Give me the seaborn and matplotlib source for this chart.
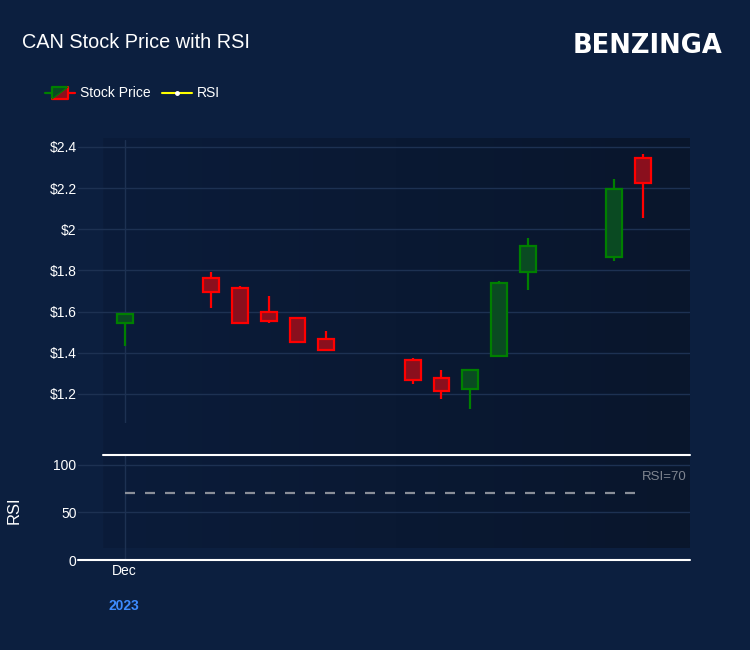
import numpy as np
import pandas as pd
import matplotlib
matplotlib.use("Agg")
import matplotlib.pyplot as plt
import matplotlib.dates as mdates
from matplotlib.lines import Line2D
from matplotlib.patches import Polygon
from matplotlib.colors import LinearSegmentedColormap
import seaborn as sns

# data (CAN, Dec 2023)
dates = ["2023-12-01", "2023-12-04", "2023-12-05", "2023-12-06", "2023-12-07",
         "2023-12-08", "2023-12-11", "2023-12-12", "2023-12-13", "2023-12-14",
         "2023-12-15", "2023-12-18", "2023-12-19"]
open_ = [1.545, 1.762, 1.717, 1.598, 1.568, 1.467, 1.367, 1.278, 1.224, 1.383, 1.794, 1.864, 2.348]
high = [1.595, 1.794, 1.726, 1.676, 1.573, 1.505, 1.373, 1.317, 1.318, 1.749, 1.957, 2.245, 2.365]
low = [1.433, 1.616, 1.545, 1.547, 1.446, 1.407, 1.247, 1.177, 1.129, 1.383, 1.707, 1.848, 2.057]
close = [1.587, 1.694, 1.547, 1.555, 1.454, 1.414, 1.267, 1.215, 1.318, 1.738, 1.918, 2.196, 2.224]
rsi = [np.nan] * len(dates)  # not enough history, no RSI drawn
rsi_level = 70
price_ticks = [1.2, 1.4, 1.6, 1.8, 2.0, 2.2, 2.4]
price_labels = ["$1.2", "$1.4", "$1.6", "$1.8", "$2", "$2.2", "$2.4"]
rsi_ticks = [0, 50, 100]

BG = "#0c1f3f"
GRID = "#1d3152"
UP_EDGE, UP_FILL = "#008000", "#0a4a22"
DN_EDGE, DN_FILL = "#ff0000", "#8a0f1d"

sns.set_theme(style="dark", rc={"axes.facecolor": "none", "figure.facecolor": BG})
plt.rcParams["font.family"] = ["Liberation Sans", "DejaVu Sans"]

df = pd.DataFrame({"date": pd.to_datetime(dates), "open": open_, "high": high,
                   "low": low, "close": close, "rsi": rsi})
df["up"] = df["close"] >= df["open"]

W, H = 750, 650
fig = plt.figure(figsize=(7.5, 6.5), dpi=100)


def fx(px):
    return px / W


def fy(py):
    return 1 - py / H


# dark gradient panel behind both plots
ax_bg = fig.add_axes([fx(103), fy(548), fx(690 - 103), fy(138) - fy(548)], zorder=0)
grad = np.linspace(0, 1, 256).reshape(1, -1)
cmap = LinearSegmentedColormap.from_list("bg", ["#0b1c3a", "#09162c"])
ax_bg.imshow(grad, aspect="auto", cmap=cmap, extent=[0, 1, 0, 1])
ax_bg.axis("off")

L = 78
ax = fig.add_axes([fx(L), fy(423), fx(690 - L), fy(140) - fy(423)], zorder=1)
ax_r = fig.add_axes([fx(L), fy(560), fx(690 - L), fy(455) - fy(560)], zorder=1, sharex=ax)

start = df["date"].iloc[0]
xlim = (start - pd.Timedelta(days=1.62), start + pd.Timedelta(days=19.63))

# candles
for _, r in df.iterrows():
    edge = UP_EDGE if r["up"] else DN_EDGE
    ax.vlines(r["date"], r["low"], r["high"], color=edge, lw=1.6, zorder=2)
up = df[df["up"]]
dn = df[~df["up"]]
ax.bar(up["date"], up["close"] - up["open"], bottom=up["open"], width=0.55,
       color=UP_FILL, edgecolor=UP_EDGE, linewidth=1.6, zorder=3)
ax.bar(dn["date"], dn["open"] - dn["close"], bottom=dn["close"], width=0.55,
       color=DN_FILL, edgecolor=DN_EDGE, linewidth=1.6, zorder=3)

ax.set_xlim(*xlim)
ax.set_ylim(1.059, 2.434)
ax.set_yticks(price_ticks)
ax.set_yticklabels(price_labels)
ax.tick_params(axis="y", colors="white", labelsize=10, length=0, pad=1)
ax.tick_params(axis="x", labelbottom=False, length=0)
ax.set_xticks([start])
ax.grid(True, color=GRID, lw=1)
for s in ax.spines.values():
    s.set_visible(False)
ax.set_xlabel("")
ax.set_ylabel("")

# RSI panel
ax_r.plot(df["date"], df["rsi"], color="#ffff00", lw=1.5)
thr = pd.DataFrame({"date": [df["date"].iloc[0], df["date"].iloc[-1] - pd.Timedelta(days=0.2)],
                    "val": [rsi_level, rsi_level]})
sns.lineplot(data=thr, x="date", y="val", ax=ax_r, color="#8a8f99", lw=1.6,
             linestyle=(0, (4.5, 4.5)))
ax_r.text(0.995, 0.79, "RSI=70", transform=ax_r.transAxes, ha="right", va="center",
          color="#7f8590", fontsize=9.5)
ax_r.set_ylim(0, 110.5)
ax_r.set_yticks(rsi_ticks)
ax_r.tick_params(axis="y", colors="white", labelsize=10, length=0, pad=1)
ax_r.set_xticks([start])
ax_r.xaxis.set_major_formatter(mdates.DateFormatter("%b"))
ax_r.tick_params(axis="x", colors="white", labelsize=10, length=0, pad=3)
ax_r.grid(True, color=GRID, lw=1)
ax_r.set_xlabel("")
ax_r.set_ylabel("")
for s in ax_r.spines.values():
    s.set_visible(False)
ax_r.set_xlim(*xlim)
fig.text(fx(14), fy(510), "RSI", color="white", fontsize=12, rotation=90,
         ha="center", va="center")

# white rules
fig.add_artist(Line2D([fx(103), fx(690)], [fy(455), fy(455)], color="white", lw=1.5))
fig.add_artist(Line2D([fx(78), fx(690)], [fy(560), fy(560)], color="white", lw=1.5))

fig.text(fx(124), fy(606), "2023", color="#3d8bff", fontsize=10, fontweight="bold",
         ha="center", va="center")

# title and brand
fig.text(fx(22), fy(42), "CAN Stock Price with RSI", color="white", fontsize=14.3,
         ha="left", va="center")
fig.text(fx(722), fy(46), "BENZINGA", color="white", fontsize=18.5, fontweight="bold",
         family="DejaVu Sans", ha="right", va="center")

# legend
ly = fy(93)
fig.add_artist(Line2D([fx(45), fx(52)], [ly, ly], color=UP_EDGE, lw=1.6))
fig.add_artist(Line2D([fx(68), fx(75)], [ly, ly], color=DN_EDGE, lw=1.6))
x0, x1, y0, y1 = fx(52), fx(68), fy(99), fy(87)
fig.add_artist(Polygon([[x0, y0], [x0, y1], [x1, y1]], closed=True, facecolor=UP_FILL,
                       edgecolor="none", transform=fig.transFigure))
fig.add_artist(Polygon([[x0, y0], [x1, y0], [x1, y1]], closed=True, facecolor=DN_FILL,
                       edgecolor="none", transform=fig.transFigure))
fig.add_artist(Line2D([x0, x0, x1], [y0, y1, y1], color=UP_EDGE, lw=1.6))
fig.add_artist(Line2D([x0, x1, x1], [y0, y0, y1], color=DN_EDGE, lw=1.6))
fig.add_artist(Line2D([x0, x1], [y0, y1], color=UP_EDGE, lw=0.8))
fig.text(fx(80), ly, "Stock Price", color="white", fontsize=10, ha="left", va="center")
fig.add_artist(Line2D([fx(162), fx(192)], [ly, ly], color="#ffff00", lw=1.5))
fig.add_artist(Line2D([fx(177)], [ly], color="white", marker="o", markersize=2.5, lw=0))
fig.text(fx(197), ly, "RSI", color="white", fontsize=10, ha="left", va="center")

fig.savefig("out.png", dpi=100, facecolor=BG)
